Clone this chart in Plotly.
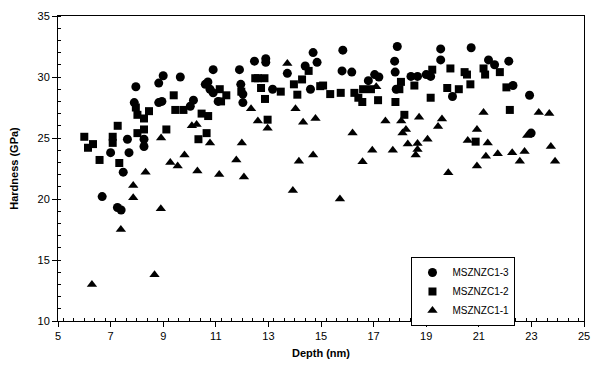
import plotly.graph_objects as go

# MSZNZC1-3 (circles)
x_c3 = [6.68, 7.0, 7.26, 7.4, 7.48, 7.64, 7.7, 7.9, 7.96, 8.27, 8.27, 8.83, 8.83, 8.95, 9.0, 9.65,
        10.03, 10.15, 10.6, 10.7, 10.78, 10.9, 11.09, 10.9, 11.9, 11.95, 12.03, 12.03, 12.47, 12.9,
        12.9, 13.16, 13.72, 14.4, 14.6, 14.7, 14.85, 15.8, 15.83, 16.17, 16.8, 17.04, 17.2, 17.8,
        17.82, 17.86, 17.9, 18.42, 18.67, 19.0, 19.17, 19.55, 19.55, 20.0, 20.71, 21.37, 21.6,
        22.14, 22.3, 22.93, 22.99]
y_c3 = [20.2, 23.8, 19.3, 19.1, 22.2, 24.9, 23.8, 27.9, 29.2, 24.9, 24.3, 29.5, 27.9, 28.0, 30.1, 30.0,
        27.6, 28.1, 29.4, 29.6, 29.0, 28.7, 28.0, 30.6, 30.6, 29.4, 28.6, 27.9, 31.3, 31.5,
        31.2, 29.0, 30.3, 30.9, 29.0, 32.0, 31.2, 30.5, 32.2, 30.4, 29.7, 30.2, 30.0, 31.3,
        30.4, 29.0, 32.5, 30.05, 30.05, 30.2, 30.05, 32.3, 31.4, 28.4, 32.4, 31.4, 31.0,
        31.3, 29.3, 28.5, 25.4]

# MSZNZC1-2 (squares)
x_c2 = [6.0, 6.14, 6.33, 6.58, 7.08, 7.08, 7.27, 7.33, 7.96, 8.02, 8.27, 8.46, 8.27, 8.02, 9.12,
        9.4, 9.46, 9.77, 10.46, 10.71, 10.65, 10.34, 11.15, 11.4, 11.2, 11.97, 12.5, 12.6, 12.85,
        12.72, 12.87, 13.47, 12.97, 13.97, 14.1, 14.28, 14.53, 14.97, 15.08, 15.35, 15.75, 16.27,
        16.42, 16.57, 16.6, 16.9, 17.17, 17.83, 18.04, 17.98, 18.55, 18.17, 19.23, 19.17, 19.8,
        19.92, 20.46, 20.55, 20.68, 20.24, 21.18, 21.24, 21.8, 22.05, 22.18, 20.88]
y_c2 = [25.1, 24.2, 24.5, 23.2, 25.1, 24.6, 26.0, 22.95, 27.5, 26.9, 26.6, 27.2, 25.7, 25.4, 25.7,
        28.5, 27.3, 27.3, 27.0, 26.8, 25.4, 24.9, 29.0, 28.5, 28.0, 28.8, 29.9, 29.9, 29.9,
        29.1, 28.2, 28.8, 26.5, 29.4, 28.55, 29.8, 30.5, 29.25, 29.3, 28.6, 28.7, 28.7,
        28.3, 27.95, 29.0, 29.0, 28.1, 27.95, 29.6, 29.0, 29.3, 26.9, 30.6, 28.3, 29.1,
        30.7, 30.4, 30.2, 29.4, 29.0, 30.7, 30.2, 30.4, 29.15, 27.3, 24.7]

# MSZNZC1-1 (triangles)
x_c1 = [6.29, 7.39, 7.86, 7.86, 8.33, 8.67, 8.91, 8.92, 9.27, 9.55, 9.81, 10.09, 10.27, 10.3,
        10.78, 11.13, 11.78, 11.99, 12.07, 12.34, 12.6, 12.97, 13.72, 13.93, 14.03, 14.16, 14.32,
        14.7, 14.79, 15.72, 16.2, 16.58, 16.95, 17.1, 17.45, 17.73, 18.05, 18.1, 18.23, 18.3, 18.6,
        18.67, 18.67, 18.73, 19.05, 19.45, 19.6, 19.84, 20.58, 20.93, 20.93, 21.18, 21.27, 21.34,
        21.72, 22.27, 22.56, 22.74, 22.84, 23.28, 23.68, 23.74, 23.9]
y_c1 = [13.0, 17.5, 20.1, 21.1, 22.2, 13.8, 19.2, 25.0, 23.0, 22.7, 23.6, 26.0, 26.1, 22.3,
        24.6, 22.0, 23.2, 24.6, 21.8, 27.4, 26.4, 25.8, 31.1, 20.7, 27.4, 23.1, 26.3,
        23.6, 26.6, 20.0, 25.4, 23.05, 24.0, 29.2, 26.4, 24.0, 26.4, 25.4, 25.7, 24.5, 23.6,
        24.55, 24.05, 26.7, 24.9, 25.95, 26.55, 22.15, 24.8, 25.7, 22.7, 27.1, 23.5, 24.6,
        23.7, 23.8, 23.1, 23.9, 25.2, 27.1, 27.0, 24.3, 23.1]

x_ticks = [5, 7, 9, 11, 13, 15, 17, 19, 21, 23, 25]
y_ticks = [10, 15, 20, 25, 30, 35]

fig = go.Figure()
fig.add_trace(go.Scatter(x=x_c3, y=y_c3, mode="markers", name="MSZNZC1-3",
                         marker=dict(symbol="circle", size=9, color="black")))
fig.add_trace(go.Scatter(x=x_c2, y=y_c2, mode="markers", name="MSZNZC1-2",
                         marker=dict(symbol="square", size=8, color="black")))
fig.add_trace(go.Scatter(x=x_c1, y=y_c1, mode="markers", name="MSZNZC1-1",
                         marker=dict(symbol="triangle-up", size=9, color="black")))

axis_font = dict(family="Liberation Sans, Arial, sans-serif", size=11, color="black")
fig.update_layout(
    width=598, height=366,
    margin=dict(l=58, r=8, t=16, b=44),
    paper_bgcolor="white", plot_bgcolor="white",
    font=axis_font,
    showlegend=True,
    legend=dict(x=0.672, y=0.21, xanchor="left", yanchor="top",
                bgcolor="white", bordercolor="black", borderwidth=1,
                font=dict(family="Liberation Sans, Arial, sans-serif", size=10, color="black"),
                itemwidth=30, tracegroupgap=0),
    xaxis=dict(range=[5, 25], tickvals=x_ticks, showgrid=False, zeroline=False,
               showline=True, linecolor="black", linewidth=1, mirror=True,
               ticks="outside", ticklen=5, tickcolor="black",
               minor=dict(dtick=0.4, ticks="inside", ticklen=3, tickcolor="black", showgrid=False),
               title=dict(text="<b>Depth (nm)</b>", font=axis_font, standoff=8)),
    yaxis=dict(range=[10, 35], tickvals=y_ticks, showgrid=False, zeroline=False,
               showline=True, linecolor="black", linewidth=1, mirror=True,
               ticks="outside", ticklen=5, tickcolor="black",
               minor=dict(dtick=1, ticks="inside", ticklen=3, tickcolor="black", showgrid=False),
               title=dict(text="<b>Hardness (GPa)</b>", font=axis_font, standoff=16)),
)

fig.write_html("out.html")
